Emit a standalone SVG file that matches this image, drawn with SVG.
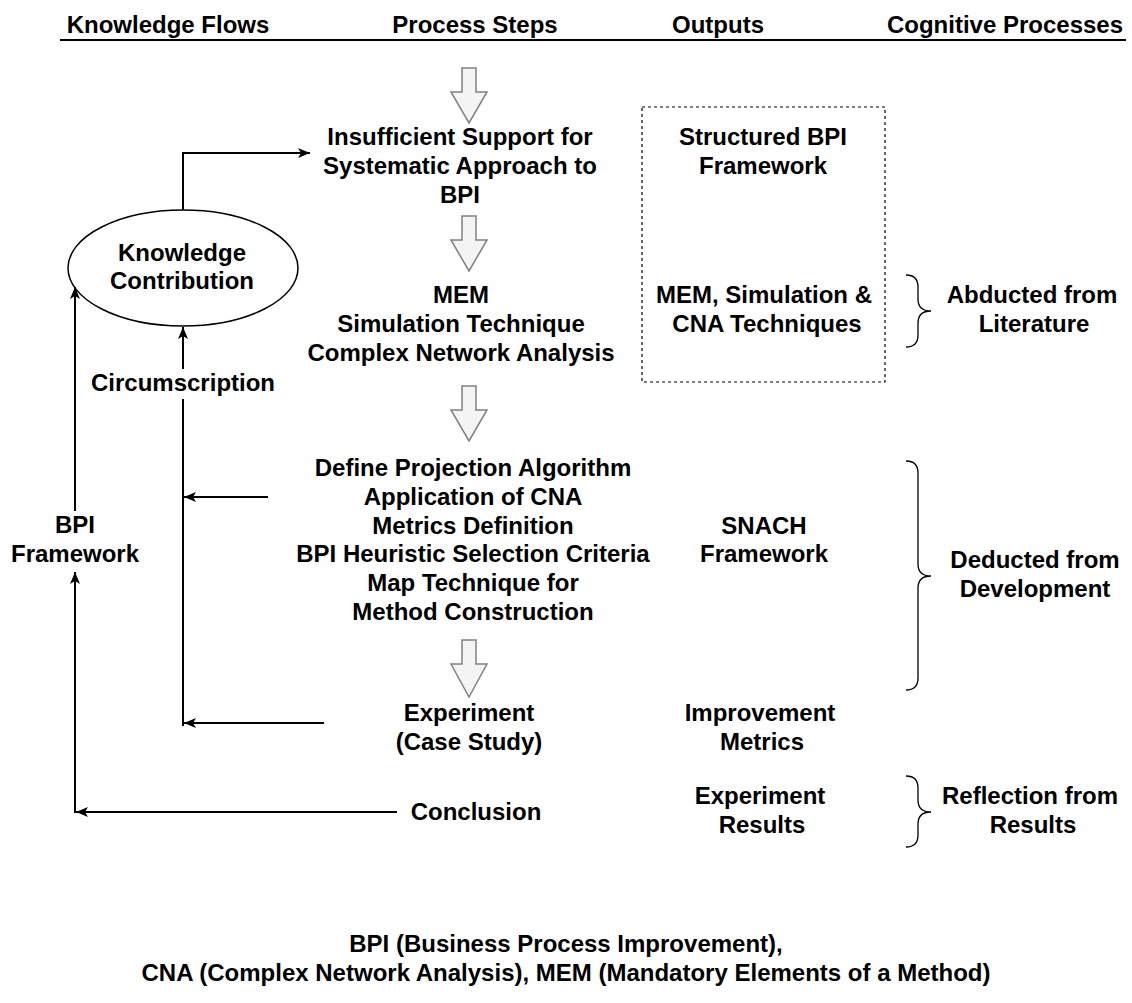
<svg xmlns="http://www.w3.org/2000/svg" width="1132" height="1003" viewBox="0 0 1132 1003">
  <defs>
    <style>
      text { font-family: "Liberation Sans", Arial, Helvetica, sans-serif; font-size: 24px; font-weight: bold; fill: #000; text-anchor: middle; }
      .flow { fill: none; stroke: #000; stroke-width: 2; }
      .step-arrow { fill: #f4f4f4; stroke: #808080; stroke-width: 1.5; stroke-linejoin: miter; }
      .brace { fill: none; stroke: #000; stroke-width: 1.3; }
    </style>
    <marker id="arrow" viewBox="0 0 12 10" refX="12" refY="5" markerWidth="12" markerHeight="10" markerUnits="userSpaceOnUse" orient="auto">
      <path d="M0,0 L12,5 L0,10 L3,5 Z" fill="#000"/>
    </marker>
  </defs>
  <rect width="1132" height="1003" fill="#fff"/>

  <!-- column headers -->
  <g id="headers">
    <text x="168" y="33">Knowledge Flows</text>
    <text x="475" y="33">Process Steps</text>
    <text x="718" y="33">Outputs</text>
    <text x="1005" y="33">Cognitive Processes</text>
    <line x1="60" y1="40" x2="1126" y2="40" stroke="#000" stroke-width="2"/>
  </g>

  <!-- process step arrows -->
  <g id="step-arrows">
    <path class="step-arrow" d="M462,68 H476 V92 H487 L469,123 L451,92 H462 Z"/>
    <path class="step-arrow" d="M462,216 H476 V240 H487 L469,271 L451,240 H462 Z"/>
    <path class="step-arrow" d="M462,386 H476 V410 H487 L469,441 L451,410 H462 Z"/>
    <path class="step-arrow" d="M462,640 H476 V664 H487 L469,697 L451,664 H462 Z"/>
  </g>

  <!-- process steps -->
  <g id="step-problem">
    <text x="460" y="145">Insufficient Support for</text>
    <text x="460" y="174">Systematic Approach to</text>
    <text x="460" y="203">BPI</text>
  </g>
  <g id="step-techniques">
    <text x="461" y="303">MEM</text>
    <text x="461" y="332">Simulation Technique</text>
    <text x="461" y="361">Complex Network Analysis</text>
  </g>
  <g id="step-development">
    <text x="473" y="476">Define Projection Algorithm</text>
    <text x="473" y="505">Application of CNA</text>
    <text x="473" y="534">Metrics Definition</text>
    <text x="473" y="562">BPI Heuristic Selection Criteria</text>
    <text x="473" y="591">Map Technique for</text>
    <text x="473" y="620">Method Construction</text>
  </g>
  <g id="step-experiment">
    <text x="469" y="721">Experiment</text>
    <text x="469" y="750">(Case Study)</text>
  </g>
  <g id="step-conclusion">
    <text x="476" y="820">Conclusion</text>
  </g>

  <!-- outputs -->
  <g id="outputs-box">
    <rect x="642" y="107" width="243" height="275" fill="none" stroke="#000" stroke-width="1.2" stroke-dasharray="3 3"/>
  </g>
  <g id="output-framework">
    <text x="763" y="145">Structured BPI</text>
    <text x="763" y="174">Framework</text>
  </g>
  <g id="output-techniques">
    <text x="764" y="303">MEM, Simulation &amp;</text>
    <text x="767" y="332">CNA Techniques</text>
  </g>
  <g id="output-snach">
    <text x="764" y="534">SNACH</text>
    <text x="764" y="562">Framework</text>
  </g>
  <g id="output-metrics">
    <text x="760" y="721">Improvement</text>
    <text x="762" y="750">Metrics</text>
  </g>
  <g id="output-results">
    <text x="760" y="804">Experiment</text>
    <text x="762" y="833">Results</text>
  </g>

  <!-- cognitive processes -->
  <g id="cognitive-abduction">
    <path class="brace" d="M906,275 Q918,275 918,287 V299 Q918,311 931,311 Q918,311 918,323 V335 Q918,347 906,347"/>
    <text x="1032" y="303">Abducted from</text>
    <text x="1034" y="332">Literature</text>
  </g>
  <g id="cognitive-deduction">
    <path class="brace" d="M906,461 Q918,461 918,473 V564 Q918,576 931,576 Q918,576 918,588 V678 Q918,690 906,690"/>
    <text x="1035" y="568">Deducted from</text>
    <text x="1035" y="597">Development</text>
  </g>
  <g id="cognitive-reflection">
    <path class="brace" d="M906,776 Q918,776 918,788 V800 Q918,812 931,812 Q918,812 918,824 V835 Q918,847 906,847"/>
    <text x="1030" y="804">Reflection from</text>
    <text x="1033" y="833">Results</text>
  </g>

  <!-- knowledge contribution -->
  <g id="knowledge-contribution">
    <ellipse cx="183" cy="268" rx="115" ry="58" fill="#fff" stroke="#000" stroke-width="1.5"/>
    <text x="182" y="261">Knowledge</text>
    <text x="182" y="289">Contribution</text>
  </g>

  <!-- knowledge flows -->
  <g id="connectors">
    <path class="flow" d="M183,210 V153 H310" marker-end="url(#arrow)"/>
    <path class="flow" d="M183,726 V327" marker-end="url(#arrow)"/>
    <path class="flow" d="M268,497 H184" marker-end="url(#arrow)"/>
    <path class="flow" d="M324,723 H184" marker-end="url(#arrow)"/>
    <path class="flow" d="M397,812 H76" marker-end="url(#arrow)"/>
    <path class="flow" d="M75,813 V572" marker-end="url(#arrow)"/>
    <path class="flow" d="M75,511 V287" marker-end="url(#arrow)"/>
    <g id="label-circumscription">
      <rect x="92" y="369" width="182" height="30" fill="#fff"/>
      <text x="183" y="391">Circumscription</text>
    </g>
    <g id="label-bpi-framework">
      <text x="75" y="533">BPI</text>
      <text x="75" y="562">Framework</text>
    </g>
  </g>

  <!-- abbreviations -->
  <g id="legend">
    <text x="566" y="952">BPI (Business Process Improvement),</text>
    <text x="566" y="981">CNA (Complex Network Analysis), MEM (Mandatory Elements of a Method)</text>
  </g>
</svg>
